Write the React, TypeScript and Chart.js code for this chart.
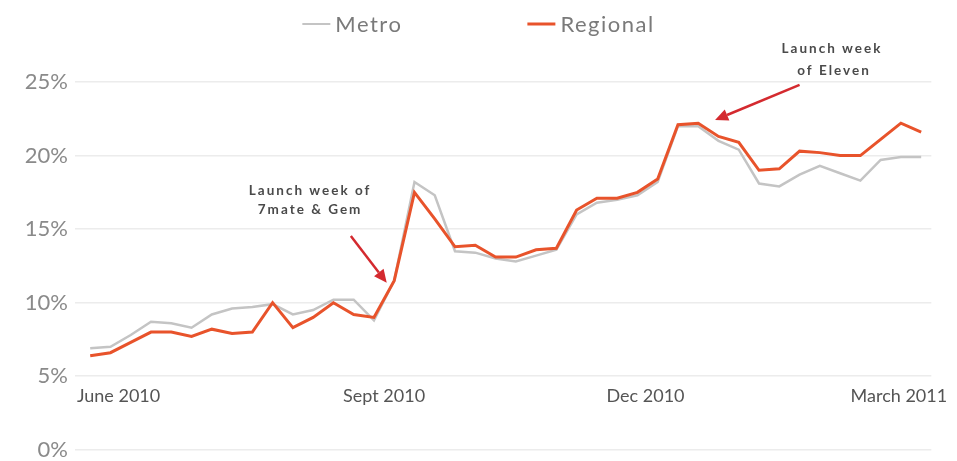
import React, { useEffect, useRef } from 'react';
import { Chart, registerables } from 'chart.js';

Chart.register(...registerables);

// Weekly market share (%), June 2010 – March 2011
const metroShare = [
  6.9, 7.0, 7.8, 8.7, 8.6, 8.3, 9.2, 9.6, 9.7, 9.9,
  9.2, 9.5, 10.2, 10.2, 8.8, 11.5, 18.2, 17.3, 13.5, 13.4,
  13.0, 12.8, 13.2, 13.6, 16.0, 16.8, 17.0, 17.3, 18.2, 22.0,
  22.0, 21.0, 20.4, 18.1, 17.9, 18.7, 19.3, 18.8, 18.3, 19.7,
  19.9, 19.9,
];
const regionalShare = [
  6.4, 6.6, 7.3, 8.0, 8.0, 7.7, 8.2, 7.9, 8.0, 10.0,
  8.3, 9.0, 10.0, 9.2, 9.0, 11.5, 17.5, 15.7, 13.8, 13.9,
  13.1, 13.1, 13.6, 13.7, 16.3, 17.1, 17.1, 17.5, 18.4, 22.1,
  22.2, 21.3, 20.9, 19.0, 19.1, 20.3, 20.2, 20.0, 20.0, 21.1,
  22.2, 21.6,
];
const seriesNames = ['Metro', 'Regional'];
const seriesColors = ['#c4c4c4', '#e8532b'];
const xTickLabels = ['June 2010', 'Sept 2010', 'Dec 2010', 'March 2011'];
const xTickWeeks = [1.4, 14.5, 27.4, 39.9];
const yTickStep = 5;
const yMax = 25;

const FONT = 'Lato, "Open Sans", sans-serif';

function drawArrow(ctx: CanvasRenderingContext2D, x1: number, y1: number, x2: number, y2: number) {
  const ang = Math.atan2(y2 - y1, x2 - x1);
  const head = 13;
  const wing = 6;
  const bx = x2 - head * Math.cos(ang);
  const by = y2 - head * Math.sin(ang);
  ctx.save();
  ctx.strokeStyle = '#d42a2f';
  ctx.fillStyle = '#d42a2f';
  ctx.lineWidth = 2.5;
  ctx.beginPath();
  ctx.moveTo(x1, y1);
  ctx.lineTo(bx, by);
  ctx.stroke();
  ctx.beginPath();
  ctx.moveTo(x2, y2);
  ctx.lineTo(bx + wing * Math.sin(ang), by - wing * Math.cos(ang));
  ctx.lineTo(bx - wing * Math.sin(ang), by + wing * Math.cos(ang));
  ctx.closePath();
  ctx.fill();
  ctx.restore();
}

const overlayPlugin = {
  id: 'overlay',
  afterDraw(chart: any) {
    const ctx: CanvasRenderingContext2D = chart.ctx;
    const xs = chart.scales.x;
    const ys = chart.scales.y;
    const px = (v: number) => xs.getPixelForValue(v);
    const py = (v: number) => ys.getPixelForValue(v);

    // Annotations
    ctx.save();
    ctx.fillStyle = '#4a4a4a';
    ctx.font = `bold 13.5px ${FONT}`;
    (ctx as any).letterSpacing = '2px';
    ctx.textAlign = 'center';
    ctx.textBaseline = 'middle';
    ctx.fillText('Launch week of', px(10.85), py(17.6));
    ctx.fillText('7mate & Gem', px(10.85), py(16.3));
    ctx.fillText('Launch week', px(36.6), py(27.3));
    ctx.fillText('of Eleven', px(36.7), py(25.75));
    ctx.restore();
    drawArrow(ctx, px(12.86), py(14.54), px(14.63), py(11.35));
    drawArrow(ctx, px(35.0), py(24.8), px(30.83), py(22.42));

    // Legend
    ctx.save();
    ctx.font = `22px ${FONT}`;
    (ctx as any).letterSpacing = '1.5px';
    ctx.textBaseline = 'middle';
    ctx.textAlign = 'left';
    const lineLen = 28;
    const gap = 5;
    const itemGap = 125;
    const widths = seriesNames.map((n) => lineLen + gap + ctx.measureText(n).width);
    const total = widths.reduce((a, b) => a + b, 0) + itemGap * (widths.length - 1);
    let x = (chart.width - total) / 2;
    const y = 24;
    seriesNames.forEach((n, i) => {
      ctx.strokeStyle = seriesColors[i];
      ctx.lineWidth = i === 1 ? 3 : 2;
      ctx.beginPath();
      ctx.moveTo(x, y);
      ctx.lineTo(x + lineLen, y);
      ctx.stroke();
      ctx.fillStyle = '#7a7a7a';
      ctx.fillText(n, x + lineLen + gap, y + 1);
      x += widths[i] + itemGap;
    });
    ctx.restore();
  },
};

export default function App() {
  const canvasRef = useRef<HTMLCanvasElement | null>(null);

  useEffect(() => {
    const canvas = canvasRef.current;
    if (!canvas) return;
    const chart = new Chart(canvas, {
      type: 'line',
      data: {
        datasets: [
          {
            label: seriesNames[0],
            data: metroShare.map((v, i) => ({ x: i, y: v })),
            borderColor: seriesColors[0],
            backgroundColor: seriesColors[0],
            borderWidth: 2.5,
            pointRadius: 0,
            tension: 0,
            order: 1,
          },
          {
            label: seriesNames[1],
            data: regionalShare.map((v, i) => ({ x: i, y: v })),
            borderColor: seriesColors[1],
            backgroundColor: seriesColors[1],
            borderWidth: 3,
            pointRadius: 0,
            tension: 0,
            order: 0,
          },
        ],
      },
      options: {
        animation: false,
        responsive: true,
        maintainAspectRatio: false,
        layout: { padding: { top: 82, right: 22, bottom: 0, left: 0 } },
        plugins: {
          legend: { display: false },
          tooltip: { enabled: false },
        },
        scales: {
          x: {
            type: 'linear',
            min: -0.75,
            max: 41.5,
            position: { y: 5 } as any,
            grid: { display: false, drawTicks: false },
            border: { display: false },
            afterBuildTicks: (s: any) => {
              s.ticks = xTickWeeks.map((v) => ({ value: v }));
            },
            ticks: {
              autoSkip: false,
              maxRotation: 0,
              padding: 9,
              color: '#555555',
              font: { family: FONT, size: 18 },
              callback: (_v: any, i: number) => xTickLabels[i],
            },
          },
          y: {
            min: 0,
            max: yMax,
            afterFit: (s: any) => {
              s.width = 75;
            },
            grid: { color: '#ececec', lineWidth: 1.5, drawTicks: false },
            border: { display: false },
            ticks: {
              stepSize: yTickStep,
              padding: 7,
              color: '#8a8a8a',
              font: { family: FONT, size: 22 },
              callback: (v: any) => `${v}%`,
            },
          },
        },
      },
      plugins: [overlayPlugin],
    });
    return () => chart.destroy();
  }, []);

  return (
    <div style={{ position: 'absolute', left: 0, top: 0, width: 957, height: 461, overflow: 'hidden' }}>
      <div style={{ position: 'relative', width: 957, height: 470 }}>
        <canvas ref={canvasRef} />
      </div>
    </div>
  );
}
